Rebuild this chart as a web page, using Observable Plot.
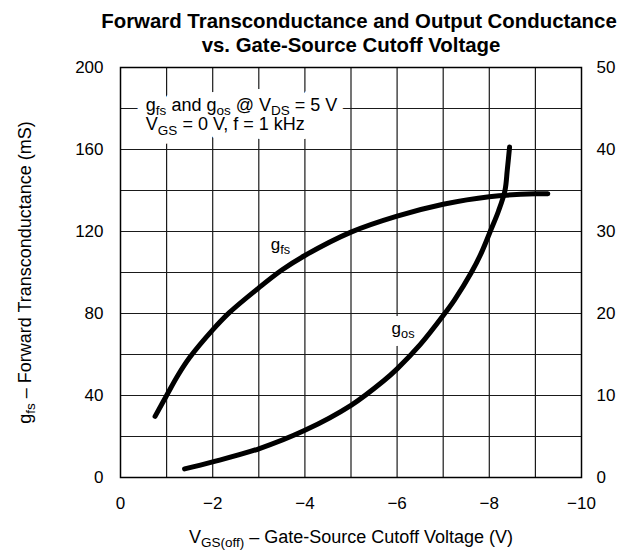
<!DOCTYPE html>
<html><head><meta charset="utf-8">
<script src="https://cdn.jsdelivr.net/npm/d3@7"></script>
<script src="https://cdn.jsdelivr.net/npm/@observablehq/plot@0.6"></script>
<style>body{margin:0;background:#fff}</style></head>
<body><div id="chart"></div>
<script>
// ---- data ----
const gfsVgs = [-0.75, -1.0, -1.25, -1.5, -2.0, -2.36, -3.0, -3.5, -4.0, -5.0, -6.0, -7.0, -8.0, -9.0, -9.27];
const gfsVal = [29.8, 40, 50, 58.5, 72, 80.4, 92.5, 101.2, 108.3, 119.7, 127.5, 133.3, 137, 138.4, 138.4]; // mS (left axis)
const gosVgs = [-1.39, -2.0, -3.0, -4.0, -5.0, -5.71, -6.0, -6.5, -7.0, -7.25, -7.61, -7.82, -8.02, -8.20, -8.34, -8.39, -8.44];
const gosVal = [1.05, 1.9, 3.5, 5.75, 8.8, 11.8, 13.25, 16.2, 19.75, 21.7, 25, 27.3, 30, 32.5, 35, 37.5, 40.3]; // right axis units
const xTicks = [0, -2, -4, -6, -8, -10];
const xTickLabels = ["0", "\u22122", "\u22124", "\u22126", "\u22128", "\u221210"];
const xGrid = [-1, -2, -3, -4, -5, -6, -7, -8, -9];
const yTicks = [0, 40, 80, 120, 160, 200];
const yTickLabels = ["0", "40", "80", "120", "160", "200"];
const yRightLabels = ["0", "10", "20", "30", "40", "50"];
const yGrid = [20, 40, 60, 80, 100, 120, 140, 160, 180];
const titleLines = ["Forward Transconductance and Output Conductance", "vs. Gate-Source Cutoff Voltage"];
const xLabel = "V_{GS(off)} \u2013 Gate-Source Cutoff Voltage (V)";
const yLabel = "g_{fs} \u2013 Forward Transconductance (mS)";
const note1 = "g_{fs} and g_{os} @ V_{DS} = 5 V";
const note2 = "V_{GS} = 0 V, f = 1 kHz";
const gfsName = "g_{fs}";
const gosName = "g_{os}";
const rightScale = 4; // 200 mS on left == 50 on right

const gfs = gfsVgs.map((v, i) => ({v, y: gfsVal[i]}));
const gos = gosVgs.map((v, i) => ({v, y: gosVal[i] * rightScale}));

const font = "'Liberation Sans', Arial, Helvetica, sans-serif";
const notes = [
  {t: note1, x: -0.55, y: 181.4, s: 18},
  {t: note2, x: -0.55, y: 172.1, s: 18},
  {t: gfsName, x: -3.26, y: 113.5, s: 17},
  {t: gosName, x: -5.88, y: 72.6, s: 17}
];
const labelStyle = {x: "x", y: "y", text: "t", fontSize: "s", textAnchor: "start", lineAnchor: "middle"};

const chart = Plot.plot({
  width: 623, height: 550,
  marginLeft: 120, marginRight: 42, marginTop: 67, marginBottom: 73,
  style: {fontFamily: font, fontSize: "17px", color: "black", background: "white"},
  x: {domain: [0, -10], label: null},
  y: {domain: [0, 200], label: null},
  marks: [
    Plot.ruleX(xGrid, {stroke: "#1a1a1a", strokeWidth: 1.2}),
    Plot.ruleY(yGrid, {stroke: "#1a1a1a", strokeWidth: 1.2}),
    Plot.text(notes, {...labelStyle, fill: "white", stroke: "white", strokeWidth: 18, strokeLinejoin: "round"}),
    Plot.text(notes, {...labelStyle, fill: "black"}),
    Plot.line(gfs, {x: "v", y: "y", curve: "catmull-rom", stroke: "black", strokeWidth: 5, strokeLinecap: "round"}),
    Plot.line(gos, {x: "v", y: "y", curve: "catmull-rom", stroke: "black", strokeWidth: 5, strokeLinecap: "round"}),
    Plot.frame({stroke: "black", strokeWidth: 1.5}),
    Plot.axisX({ticks: xTicks, tickFormat: (d, i) => xTickLabels[i], tickSize: 0, tickPadding: 19, label: null, fontSize: 17}),
    Plot.axisY({anchor: "left", ticks: yTicks, tickFormat: (d, i) => yTickLabels[i], tickSize: 0, tickPadding: 17, label: null, fontSize: 17}),
    Plot.axisY({anchor: "right", ticks: yTicks, tickFormat: (d, i) => yRightLabels[i], tickSize: 0, tickPadding: 15, label: null, fontSize: 17}),
    Plot.text([xLabel], {frameAnchor: "bottom", dy: 60, text: d => d, fontSize: 18, textAnchor: "middle", lineAnchor: "middle"}),
    Plot.text([yLabel], {frameAnchor: "left", dx: -95, rotate: -90, text: d => d, fontSize: 18, textAnchor: "middle", lineAnchor: "middle"}),
    Plot.text([titleLines[0]], {frameAnchor: "top", dx: 8, dy: -46, text: d => d, fontSize: 20.4, fontWeight: "bold", textAnchor: "middle", lineAnchor: "middle"}),
    Plot.text([titleLines[1]], {frameAnchor: "top", dx: 0, dy: -22, text: d => d, fontSize: 20.4, fontWeight: "bold", textAnchor: "middle", lineAnchor: "middle"})
  ]
});

// subscript handling: turn "_{...}" into smaller, lowered tspans
chart.querySelectorAll("text").forEach(t => {
  const s = t.textContent;
  if (!s.includes("_{")) return;
  while (t.firstChild) t.removeChild(t.firstChild);
  const parts = s.split(/(_\{[^}]*\})/);
  const NS = "http://www.w3.org/2000/svg";
  let lowered = false;
  parts.forEach(p => {
    if (!p) return;
    const ts = document.createElementNS(NS, "tspan");
    if (p.startsWith("_{")) {
      ts.textContent = p.slice(2, -1);
      ts.setAttribute("font-size", "75%");
      ts.setAttribute("dy", "0.3em");
      lowered = true;
    } else {
      ts.textContent = p;
      if (lowered) { ts.setAttribute("dy", "-0.225em"); lowered = false; }
    }
    t.appendChild(ts);
  });
});

document.getElementById("chart").appendChild(chart);
</script></body></html>
